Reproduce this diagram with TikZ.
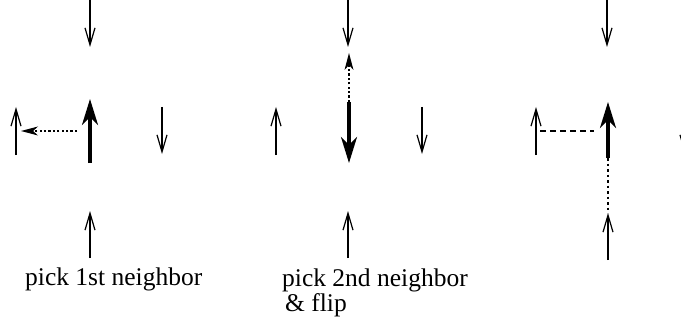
\documentclass[tikz,border=0pt]{standalone}
\usepackage{fontspec}
\setmainfont{Liberation Serif}
\usetikzlibrary{arrows.meta}
\tikzset{
  spin/.style={line width=1.1pt,-{Straight Barb[length=17pt,width=10pt,line width=1.2pt]}},
  bigspin/.style={line width=3.4pt,-{Stealth[length=26pt,width=16pt,inset=8pt]}},
  dotmove/.style={line width=2.2pt,dash pattern=on 2.2pt off 2.2pt,-{Stealth[length=17pt,width=9pt,inset=5pt,line width=0pt]}},
  dotlink/.style={line width=2.2pt,dash pattern=on 2.5pt off 3pt},
  dashlink/.style={line width=2pt,dash pattern=on 6pt off 4pt},
  lbl/.style={font=\fontsize{25.5}{25}\selectfont,inner sep=0pt,anchor=base west,align=left}
}
\begin{document}
\begin{tikzpicture}[x=1pt,y=-1pt]
\useasboundingbox (0,0) rectangle (681,321);
\clip (0,0) rectangle (681,321);
% ---- group 1
\coordinate (a1s) at (90,0);   \coordinate (a1e) at (90,47);
\coordinate (b1s) at (90,163); \coordinate (b1e) at (90,99);
\coordinate (c1s) at (16,155); \coordinate (c1e) at (16,107);
\coordinate (d1s) at (77,131); \coordinate (d1e) at (21,131);
\coordinate (e1s) at (162,107);\coordinate (e1e) at (162,154);
\coordinate (f1s) at (90,258); \coordinate (f1e) at (90,211);
\draw[spin] (a1s) -- (a1e);
\draw[bigspin] (b1s) -- (b1e);
\draw[spin] (c1s) -- (c1e);
\draw[dotmove] (d1s) -- (d1e);
\draw[spin] (e1s) -- (e1e);
\draw[spin] (f1s) -- (f1e);
\node[lbl] (l1) at (25,285) {pick 1st neighbor};
% ---- group 2
\coordinate (a2s) at (348,0);   \coordinate (a2e) at (348,47);
\coordinate (b2s) at (349,102); \coordinate (b2e) at (349,163);
\coordinate (g2e) at (349,53);
\coordinate (c2s) at (276,155); \coordinate (c2e) at (276,107);
\coordinate (e2s) at (422,107); \coordinate (e2e) at (422,154);
\coordinate (f2s) at (348,258); \coordinate (f2e) at (348,211);
\draw[spin] (a2s) -- (a2e);
\draw[bigspin] (b2s) -- (b2e);
\draw[dotmove] (b2s) -- (g2e);
\draw[spin] (c2s) -- (c2e);
\draw[spin] (e2s) -- (e2e);
\draw[spin] (f2s) -- (f2e);
\node[lbl] (l2) at (282,311) {pick 2nd neighbor\\\hspace{3pt}\& flip};
% ---- group 3
\coordinate (a3s) at (607,0);   \coordinate (a3e) at (607,47);
\coordinate (b3s) at (608,158); \coordinate (b3e) at (608,102);
\coordinate (c3s) at (536,155); \coordinate (c3e) at (536,107);
\coordinate (d3s) at (540,131); \coordinate (d3e) at (594,131);
\coordinate (h3e) at (608,213);
\coordinate (f3s) at (608,260); \coordinate (f3e) at (608,213);
\coordinate (e3s) at (685,107); \coordinate (e3e) at (685,154);
\draw[spin] (a3s) -- (a3e);
\draw[bigspin] (b3s) -- (b3e);
\draw[spin] (c3s) -- (c3e);
\draw[dashlink] (d3s) -- (d3e);
\draw[dotlink] (b3s) -- (h3e);
\draw[spin] (f3s) -- (f3e);
\draw[spin] (e3s) -- (e3e);
\end{tikzpicture}
\end{document}
